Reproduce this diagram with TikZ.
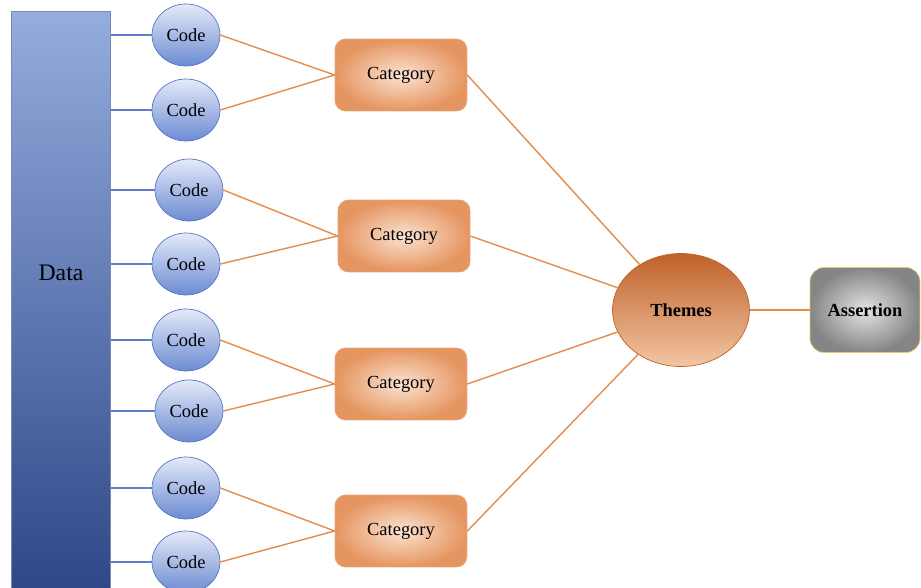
\documentclass[tikz,border=0pt]{standalone}
\usepackage{fontspec}
\setmainfont{Liberation Serif}
\usetikzlibrary{shapes.geometric}
\definecolor{barTop}{HTML}{95ACDE}
\definecolor{barBottom}{HTML}{2D4686}
\definecolor{codeTop}{HTML}{E4EAF8}
\definecolor{codeBottom}{HTML}{6C8BD2}
\definecolor{codeEdge}{HTML}{5674C4}
\definecolor{feedBlue}{HTML}{5F7DCA}
\definecolor{catLight}{HTML}{FBE3D2}
\definecolor{catDark}{HTML}{E59560}
\definecolor{catEdge}{HTML}{E9A577}
\definecolor{linkOrange}{HTML}{E38C4E}
\definecolor{themeDark}{HTML}{BF622A}
\definecolor{themeMid}{HTML}{E3843F}
\definecolor{themeLight}{HTML}{F3C6A3}
\definecolor{assertLight}{HTML}{E4E4E4}
\definecolor{assertDark}{HTML}{858585}
\definecolor{assertEdge}{HTML}{E3CB6A}
\tikzset{
  code/.style = {ellipse, draw = codeEdge, top color = codeTop,
    bottom color = codeBottom, minimum width = 1.36cm,
    minimum height = 1.24cm, inner sep = 0pt,
    font = \fontsize{10.5}{12}\selectfont},
  category/.style = {rectangle, rounded corners = 6pt, draw = catEdge,
    inner color = catLight, outer color = catDark,
    minimum width = 2.64cm, minimum height = 1.44cm,
    font = \fontsize{10.5}{12}\selectfont},
  link/.style = {draw = linkOrange, line width = .8pt},
  feed/.style = {draw = feedBlue, line width = .6pt}
}
\begin{document}
\begin{tikzpicture}[x = .02cm, y = -.02cm]
  \useasboundingbox (0,0) rectangle (921,588);
  \clip (0,0) rectangle (921,588);
  % data bar
  \node [anchor = north west, draw = barTop!80!black, top color = barTop,
    bottom color = barBottom, minimum width = 1.98cm,
    minimum height = 11.7cm, inner sep = 0pt] (data) at (11,11) {};
  \node [font = \fontsize{13.5}{15}\selectfont] (dataText) at (61,273) {Data};
  % codes
  \node [code] (c1) at (186,35) {Code};
  \node [code] (c2) at (186,110) {Code};
  \node [code] (c3) at (189,190) {Code};
  \node [code] (c4) at (186,264) {Code};
  \node [code] (c5) at (186,340) {Code};
  \node [code] (c6) at (189,411) {Code};
  \node [code] (c7) at (186,488) {Code};
  \node [code] (c8) at (186,562) {Code};
  \foreach \i in {1,...,8}
    \draw [feed] (data.east |- c\i) -- (c\i);
  % categories
  \node [category] (k1) at (401,75) {Category};
  \node [category] (k2) at (404,236) {Category};
  \node [category] (k3) at (401,384) {Category};
  \node [category] (k4) at (401,531) {Category};
  \draw [link] (c1.east) -- (k1.west);
  \draw [link] (c2.east) -- (k1.west);
  \draw [link] (c3.east) -- (k2.west);
  \draw [link] (c4.east) -- (k2.west);
  \draw [link] (c5.east) -- (k3.west);
  \draw [link] (c6.east) -- (k3.west);
  \draw [link] (c7.east) -- (k4.west);
  \draw [link] (c8.east) -- (k4.west);
  % themes and assertion
  \node [ellipse, draw = themeDark, top color = themeDark,
    middle color = themeMid, bottom color = themeLight,
    minimum width = 2.74cm, minimum height = 2.26cm,
    font = \bfseries\fontsize{10.5}{12}\selectfont] (themes) at (681,310) {Themes};
  \node [rectangle, rounded corners = 8pt, draw = assertEdge,
    inner color = assertLight, outer color = assertDark,
    minimum width = 2.2cm, minimum height = 1.7cm,
    font = \bfseries\fontsize{10.5}{12}\selectfont] (assert) at (865,310) {Assertion};
  \foreach \i in {1,...,4}
    \draw [link] (k\i.east) -- (themes);
  \draw [link] (themes) -- (assert);
\end{tikzpicture}
\end{document}
